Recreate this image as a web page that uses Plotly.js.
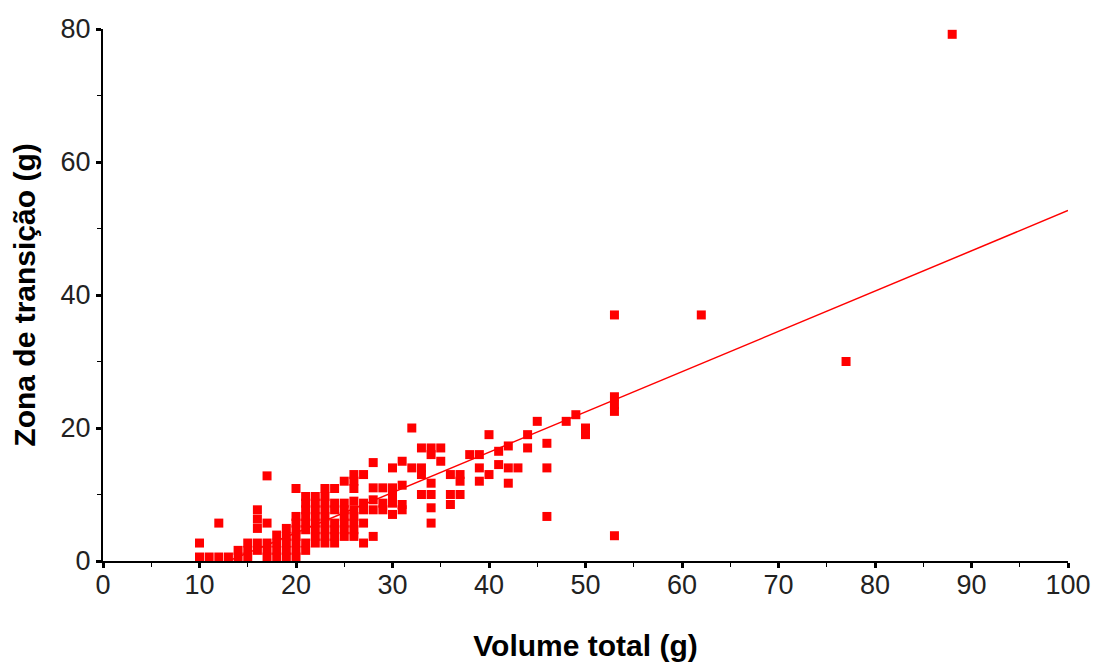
<!DOCTYPE html>
<html>
<head>
<meta charset="utf-8">
<script src="https://cdn.plot.ly/plotly-3.0.1.min.js"></script>
<style>html,body{margin:0;padding:0;background:#fff;}#chart{width:1094px;height:666px;}</style>
</head>
<body>
<div id="chart"></div>
<script>
// Volume total (g) of each sample
const volumeTotal = [
  10,10,
  11,
  12,12,
  13,
  14,14,
  15,15,15,
  16,16,16,16,16,
  17,17,17,17,17,
  18,18,18,18,
  19,19,19,19,19,
  20,20,20,20,20,20,20,20,
  21,21,21,21,21,21,21,21,
  22,22,22,22,22,22,22,22,
  23,23,23,23,23,23,23,23,23,
  24,24,24,24,24,24,24,
  25,25,25,25,25,25,25,
  26,26,26,26,26,26,26,26,26,
  27,27,27,27,27,
  28,28,28,28,28,
  29,29,29,
  30,30,30,30,30,
  31,31,31,31,
  32,32,
  33,33,33,33,
  34,34,34,34,34,34,
  35,35,
  36,36,36,
  37,37,37,
  38,
  39,39,39,
  40,40,
  41,41,
  42,42,42,
  43,
  44,44,
  45,
  46,46,46,
  48,
  49,
  50,50,
  53,53,53,53,53,
  62,
  77,
  88
];
// Zona de transição (g) of each sample
const zonaTransicao = [
  0.6,2.7,
  0.6,
  0.6,5.7,
  0.6,
  0.6,1.6,
  0.6,1.6,2.7,
  1.6,2.7,4.9,6.3,7.7,
  0.6,1.6,2.7,5.7,12.8,
  0.6,1.6,2.7,3.9,
  0.6,1.6,2.7,3.7,4.9,
  0.6,1.6,2.7,3.7,4.7,5.7,6.7,10.9,
  1.6,2.7,4.7,5.7,6.7,7.7,8.7,9.7,
  2.7,3.7,4.7,5.7,6.7,7.7,8.7,9.7,
  2.7,3.7,4.7,5.7,6.7,7.7,8.7,9.7,10.9,
  2.7,3.7,4.7,5.7,7.7,8.7,10.9,
  3.7,4.7,5.7,6.7,7.7,8.7,12,
  3.7,4.7,5.7,6.7,7.7,9,10.9,12,13,
  2.7,5.7,7.7,8.7,13,
  3.7,7.7,9.2,11,14.8,
  7.7,8.7,11,
  7,8.7,9.7,11,14,
  7.7,8.5,11.4,15,
  14,20,
  10,13,14,17,
  5.7,8,10,11.7,16,17,
  15,17,
  8.5,10,13,
  10,12,13,
  16,
  12,14,16,
  13,19,
  14.5,16.5,
  11.7,14,17.3,
  14,
  17,19,
  21,
  6.7,14,17.7,
  21,
  22,
  19,20,
  3.8,22.5,23.5,24.7,37,
  37,
  30,
  79.2
];
// Fitted regression line end points
const fitX = [13, 100];
const fitY = [0, 52.7];

const xTicks = [0,10,20,30,40,50,60,70,80,90,100];
const yTicks = [0,20,40,60,80];

const tickFont = {family: "'Liberation Sans Narrow', 'Arial Narrow', 'Liberation Sans', Arial, sans-serif", size: 27, color: '#222'};
const titleFont = {family: "'Liberation Sans', Arial, sans-serif", size: 30, color: '#000', weight: 'bold'};

const traces = [
  {
    x: volumeTotal, y: zonaTransicao, type: 'scatter', mode: 'markers',
    marker: {symbol: 'square', size: 9, color: '#ff0000', line: {width: 0}},
    cliponaxis: false, hoverinfo: 'x+y'
  },
  {
    x: fitX, y: fitY, type: 'scatter', mode: 'lines',
    line: {color: '#ff0000', width: 1.5}, hoverinfo: 'skip'
  }
];

const layout = {
  width: 1094, height: 666,
  margin: {l: 103, r: 26, t: 29, b: 105},
  paper_bgcolor: '#fff', plot_bgcolor: '#fff',
  showlegend: false,
  xaxis: {
    range: [0, 100], tickvals: xTicks, ticktext: xTicks.map(String),
    showgrid: false, zeroline: false, showline: true, linecolor: '#000', linewidth: 2,
    ticks: 'outside', ticklen: 5, tickwidth: 3, tickcolor: '#000',
    minor: {dtick: 5, tick0: 0, ticks: 'outside', ticklen: 4, tickwidth: 1, tickcolor: '#000', showgrid: false},
    tickfont: tickFont, automargin: false, ticklabelstandoff: -6,
    title: {text: 'Volume total (g)', font: titleFont, standoff: 36}
  },
  yaxis: {
    range: [0, 80], tickvals: yTicks, ticktext: yTicks.map(String),
    showgrid: false, zeroline: false, showline: true, linecolor: '#000', linewidth: 2,
    ticks: 'outside', ticklen: 5, tickwidth: 3, tickcolor: '#000',
    minor: {dtick: 10, tick0: 0, ticks: 'outside', ticklen: 4, tickwidth: 1, tickcolor: '#000', showgrid: false},
    tickfont: tickFont, automargin: false,
    title: {text: 'Zona de transição (g)', font: titleFont, standoff: 16}
  }
};

Plotly.newPlot('chart', traces, layout, {displayModeBar: false, staticPlot: true});
</script>
</body>
</html>
